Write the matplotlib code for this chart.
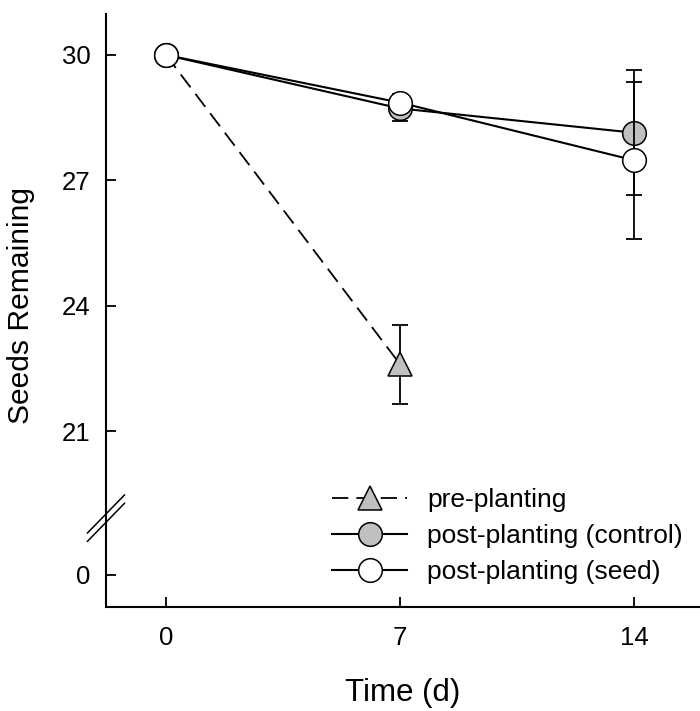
import numpy as np
import matplotlib
matplotlib.use("Agg")
import matplotlib.pyplot as plt
from matplotlib.lines import Line2D
from matplotlib import transforms

plt.rcParams["font.family"] = ["Liberation Sans", "DejaVu Sans"]

# data (means +/- error)
days = [0, 7, 14]
pre_days = [0, 7]
pre_mean = [30.0, 22.6]
pre_err = [0.0, 0.95]
ctrl_mean = [30.0, 28.72, 28.14]
ctrl_err = [0.0, 0.3, 1.5]
seed_mean = [30.0, 28.86, 27.48]
seed_err = [0.0, 0.2, 1.88]

y_ticks = [0, 21, 24, 27, 30]
x_ticks = [0, 7, 14]

# broken y axis: 0..BREAK_LO shown, then jump to BREAK_HI and up
BREAK_LO = 1.36
BREAK_HI = 18.92
OFFSET = BREAK_HI - BREAK_LO


def fwd(y):
    y = np.asarray(y, dtype=float)
    return np.where(y > 10, y - OFFSET, y)


def inv(v):
    v = np.asarray(v, dtype=float)
    return np.where(v > BREAK_LO, v + OFFSET, v)


GRAY = "#c0c0c0"

fig = plt.figure(figsize=(7.0, 7.11), dpi=100)
ax = fig.add_axes([106 / 700, 1 - 607 / 711, 594 / 700, 593 / 711])
ax.set_yscale("function", functions=(fwd, inv))

err_kw = dict(fmt="none", ecolor="black", elinewidth=1.3, capsize=6, capthick=1.3)
mk_kw = dict(markersize=17, markeredgecolor="black", markeredgewidth=1.1, color="black")

# pre-planting
ax.errorbar(pre_days, pre_mean, yerr=pre_err, zorder=2, **err_kw)
ax.plot(pre_days, pre_mean, linestyle=(0, (9, 4.5)), linewidth=1.3, marker="^",
        markerfacecolor=GRAY, markevery=[1], zorder=3, **mk_kw)

# post-planting control
ax.errorbar(days, ctrl_mean, yerr=ctrl_err, zorder=4, **err_kw)
ax.plot(days, ctrl_mean, linestyle="-", linewidth=1.5, marker="o",
        markerfacecolor=GRAY, zorder=5, **mk_kw)

# post-planting seed
ax.errorbar(days, seed_mean, yerr=seed_err, zorder=6, **err_kw)
ax.plot(days, seed_mean, linestyle="-", linewidth=1.5, marker="o",
        markerfacecolor="white", zorder=7, **mk_kw)

ax.set_xlim(-1.795, 15.97)
ax.set_ylim(-0.766, 30.98)
ax.set_xticks(x_ticks)
ax.set_yticks(y_ticks)
ax.set_yticklabels([str(t) for t in y_ticks])
ax.minorticks_off()

for side in ("top", "right"):
    ax.spines[side].set_visible(False)
for side in ("left", "bottom"):
    ax.spines[side].set_linewidth(1.5)

ax.tick_params(axis="both", direction="in", length=7, width=1.3, labelsize=18.5)
ax.tick_params(axis="y", pad=11)
ax.tick_params(axis="x", pad=14)

ax.set_xlabel("Time (d)", fontsize=22.5, labelpad=20)
ax.set_ylabel("Seeds Remaining", fontsize=21.6)
ax.yaxis.set_label_coords(-0.12, 0.508)

# break marks on the y axis
brk = transforms.blended_transform_factory(ax.transAxes, ax.transData)
dx = 18.5 / 594
dy = 19 / 41.8
for off in (-0.1, 0.1):
    c = BREAK_LO + off
    ax.plot([-dx, dx], [c - dy, c + dy], color="black", linewidth=1.1,
            transform=brk, clip_on=False, zorder=10)

handles = [
    Line2D([], [], linestyle=(0, (9, 4.5)), linewidth=1.3, marker="^",
           markerfacecolor=GRAY, **mk_kw),
    Line2D([], [], linestyle="-", linewidth=1.5, marker="o",
           markerfacecolor=GRAY, **mk_kw),
    Line2D([], [], linestyle="-", linewidth=1.5, marker="o",
           markerfacecolor="white", **mk_kw),
]
labels = ["pre-planting", "post-planting (control)", "post-planting (seed)"]
fig.legend(handles, labels, loc="upper left",
           bbox_to_anchor=(332 / 700, 1 - 488 / 711), frameon=False,
           fontsize=19, handlelength=2.85, handletextpad=0.75,
           labelspacing=0.46, borderpad=0, borderaxespad=0, numpoints=1)

fig.savefig("out.png", dpi=100)
